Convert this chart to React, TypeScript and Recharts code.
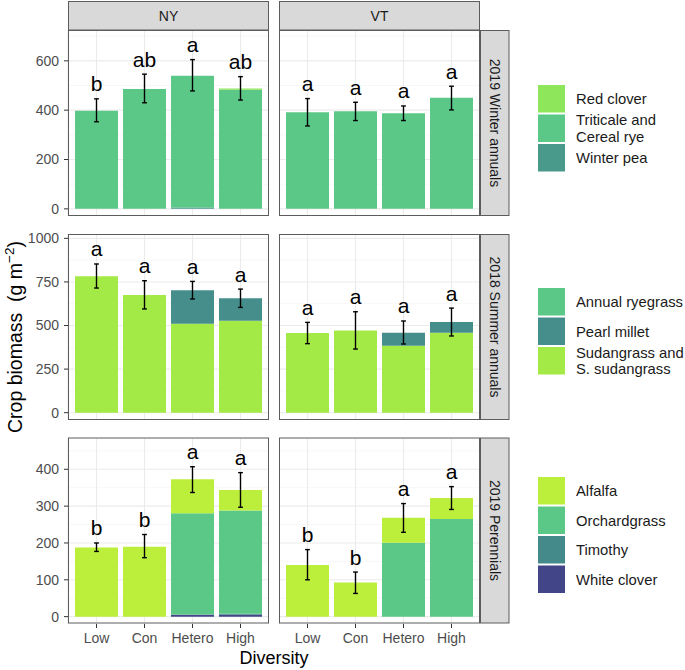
import React from 'react';
import { ComposedChart, Bar, Scatter, ErrorBar, XAxis, YAxis, CartesianGrid } from 'recharts';

const diversity = ['Low', 'Con', 'Hetero', 'High'];

// 2019 Winter annuals
const winterNY_redClover = [0, 0, 0, 5];
const winterNY_triticale = [398, 486, 535, 483];
const winterNY_winterPea = [0, 0, 5, 0];
const winterNY_lo = [353, 430, 478, 441];
const winterNY_hi = [446, 546, 605, 536];
const winterNY_letters = ['b', 'ab', 'a', 'ab'];

const winterVT_redClover = [0, 0, 0, 0];
const winterVT_triticale = [392, 396, 388, 450];
const winterVT_winterPea = [0, 0, 0, 0];
const winterVT_lo = [336, 358, 358, 401];
const winterVT_hi = [447, 432, 417, 497];
const winterVT_letters = ['a', 'a', 'a', 'a'];

// 2018 Summer annuals
const summerNY_ryegrass = [0, 0, 0, 0];
const summerNY_pearlMillet = [0, 0, 193, 129];
const summerNY_sudangrass = [782, 675, 510, 527];
const summerNY_lo = [715, 595, 652, 604];
const summerNY_hi = [853, 757, 753, 709];
const summerNY_letters = ['a', 'a', 'a', 'a'];

const summerVT_ryegrass = [0, 0, 0, 0];
const summerVT_pearlMillet = [0, 0, 75, 61];
const summerVT_sudangrass = [457, 472, 384, 459];
const summerVT_lo = [396, 365, 394, 440];
const summerVT_hi = [518, 579, 526, 600];
const summerVT_letters = ['a', 'a', 'a', 'a'];

// 2019 Perennials
const perNY_alfalfa = [188, 190, 92, 56];
const perNY_orchard = [0, 0, 275, 280];
const perNY_timothy = [0, 0, 1, 3];
const perNY_whiteClover = [0, 0, 5, 5];
const perNY_lo = [177, 160, 337, 297];
const perNY_hi = [200, 223, 407, 391];
const perNY_letters = ['b', 'b', 'a', 'a'];

const perVT_alfalfa = [140, 92.5, 68, 57];
const perVT_orchard = [0, 0, 200.5, 265];
const perVT_timothy = [0, 0, 0, 0];
const perVT_whiteClover = [0, 0, 0, 0];
const perVT_lo = [100, 63, 229, 291];
const perVT_hi = [182, 121, 307, 353];
const perVT_letters = ['b', 'b', 'a', 'a'];

// tick labels
const winterTicks = [0, 200, 400, 600];
const winterMinor = [100, 300, 500, 700];
const summerTicks = [0, 250, 500, 750, 1000];
const summerMinor = [125, 375, 625, 875];
const perTicks = [0, 100, 200, 300, 400];
const perMinor = [50, 150, 250, 350, 450];

const C_REDCLOVER = '#8EE65B';
const C_GREEN = '#5BC887';
const C_WINTERPEA = '#4A9A8C';
const C_PEARL = '#468E8B';
const C_SUDAN = '#A3EA46';
const C_ALFALFA = '#BCEF3C';
const C_TIMOTHY = '#458A8A';
const C_WHITECLOVER = '#424689';

type SeriesDef = { key: string; name: string; color: string };

const winterDefs: SeriesDef[] = [
  { key: 'winterPea', name: 'Winter pea', color: C_WINTERPEA },
  { key: 'triticale', name: 'Triticale and\nCereal rye', color: C_GREEN },
  { key: 'redClover', name: 'Red clover', color: C_REDCLOVER },
];
const summerDefs: SeriesDef[] = [
  { key: 'sudangrass', name: 'Sudangrass and\nS. sudangrass', color: C_SUDAN },
  { key: 'pearlMillet', name: 'Pearl millet', color: C_PEARL },
  { key: 'ryegrass', name: 'Annual ryegrass', color: C_GREEN },
];
const perDefs: SeriesDef[] = [
  { key: 'whiteClover', name: 'White clover', color: C_WHITECLOVER },
  { key: 'timothy', name: 'Timothy', color: C_TIMOTHY },
  { key: 'orchard', name: 'Orchardgrass', color: C_GREEN },
  { key: 'alfalfa', name: 'Alfalfa', color: C_ALFALFA },
];

function build(series: Record<string, number[]>, lo: number[], hi: number[], letters: string[]) {
  return diversity.map((d, i) => {
    const row: any = { diversity: d };
    let total = 0;
    Object.keys(series).forEach((k) => {
      row[k] = series[k][i];
      total += series[k][i];
    });
    row.total = total;
    row.hi = hi[i];
    row.err = [total - lo[i], hi[i] - total];
    row.letter = letters[i];
    return row;
  });
}

const winterNY = build({ winterPea: winterNY_winterPea, triticale: winterNY_triticale, redClover: winterNY_redClover }, winterNY_lo, winterNY_hi, winterNY_letters);
const winterVT = build({ winterPea: winterVT_winterPea, triticale: winterVT_triticale, redClover: winterVT_redClover }, winterVT_lo, winterVT_hi, winterVT_letters);
const summerNY = build({ sudangrass: summerNY_sudangrass, pearlMillet: summerNY_pearlMillet, ryegrass: summerNY_ryegrass }, summerNY_lo, summerNY_hi, summerNY_letters);
const summerVT = build({ sudangrass: summerVT_sudangrass, pearlMillet: summerVT_pearlMillet, ryegrass: summerVT_ryegrass }, summerVT_lo, summerVT_hi, summerVT_letters);
const perNY = build({ whiteClover: perNY_whiteClover, timothy: perNY_timothy, orchard: perNY_orchard, alfalfa: perNY_alfalfa }, perNY_lo, perNY_hi, perNY_letters);
const perVT = build({ whiteClover: perVT_whiteClover, timothy: perVT_timothy, orchard: perVT_orchard, alfalfa: perVT_alfalfa }, perVT_lo, perVT_hi, perVT_letters);

const FONT = '"Liberation Sans", Arial, Helvetica, sans-serif';
const PANEL_W = 201;
const PANEL_H = 186;
const YAXIS_W = 68;
const XAXIS_H = 45;
const TOP_PAD = 10;
const COL_X = [68, 279];
const ROW_Y = [30, 234, 437.5];
const BORDER = '#5c5c5c';

type PanelProps = {
  data: any[];
  defs: SeriesDef[];
  domain: [number, number];
  ticks: number[];
  minor: number[];
  showY: boolean;
  showX: boolean;
  left: number;
  top: number;
};

function Panel({ data, defs, domain, ticks, minor, showY, showX, left, top }: PanelProps) {
  const width = PANEL_W + (showY ? YAXIS_W : 0);
  const height = PANEL_H + TOP_PAD + (showX ? XAXIS_H : 0);
  return (
    <div style={{ position: 'absolute', left, top: top - TOP_PAD, width, height }}>
      <ComposedChart
        width={width}
        height={height}
        data={data}
        margin={{ top: TOP_PAD, right: 0, bottom: 0, left: 0 }}
        barCategoryGap={2.5}
      >
        <CartesianGrid horizontalValues={minor} vertical={false} stroke="#f1f1f1" strokeWidth={0.6} strokeDasharray="" />
        <CartesianGrid horizontalValues={ticks} stroke="#ebebeb" strokeWidth={1.1} strokeDasharray="" />
        <XAxis
          dataKey="diversity"
          type="category"
          hide={!showX}
          height={XAXIS_H}
          padding={{ left: 4.5, right: 4.5 }}
          axisLine={false}
          tickLine={{ stroke: '#333', strokeWidth: 1 }}
          tickSize={4}
          tickMargin={5}
          tick={{ fill: '#4d4d4d', fontSize: 14, fontFamily: FONT }}
          interval={0}
        />
        <YAxis
          type="number"
          domain={domain}
          allowDataOverflow
          ticks={ticks}
          hide={!showY}
          width={YAXIS_W}
          axisLine={false}
          tickLine={{ stroke: '#333', strokeWidth: 1 }}
          tickSize={4}
          tickMargin={5}
          tick={{ fill: '#4d4d4d', fontSize: 14, fontFamily: FONT }}
          interval={0}
        />
        {defs.map((d) => (
          <Bar key={d.key} dataKey={d.key} stackId="s" fill={d.color} isAnimationActive={false} />
        ))}
        <Scatter dataKey="total" isAnimationActive={false} shape={() => <g />}>
          <ErrorBar dataKey="err" direction="y" width={2.4} stroke="#000" strokeWidth={1.4} isAnimationActive={false} />
        </Scatter>
        <Scatter
          dataKey="hi"
          isAnimationActive={false}
          shape={(p: any) => (
            <text x={p.cx} y={p.cy - 7.5} textAnchor="middle" fontSize={21} fontFamily={FONT} fill="#000">
              {p.payload.letter}
            </text>
          )}
        />
      </ComposedChart>
    </div>
  );
}

function LegendBlock({ items }: { items: { name: string; color: string; y: number }[] }) {
  return (
    <g>
      {items.map((it) => {
        const lines = it.name.split('\n');
        return (
          <g key={it.name}>
            <rect x={538} y={it.y} width={27} height={27.5} fill={it.color} />
            {lines.map((ln, j) => (
              <text
                key={j}
                x={576}
                y={it.y + 13.75 + (j - (lines.length - 1) / 2) * 16.5 + 5.3}
                fontSize={14.8}
                fontFamily={FONT}
                fill="#1a1a1a"
              >
                {ln}
              </text>
            ))}
          </g>
        );
      })}
    </g>
  );
}

export default function App() {
  const rows = [
    { ny: winterNY, vt: winterVT, defs: winterDefs, domain: [-29, 725] as [number, number], ticks: winterTicks, minor: winterMinor, label: '2019 Winter annuals' },
    { ny: summerNY, vt: summerVT, defs: summerDefs, domain: [-42, 1025] as [number, number], ticks: summerTicks, minor: summerMinor, label: '2018 Summer annuals' },
    { ny: perNY, vt: perVT, defs: perDefs, domain: [-20, 485] as [number, number], ticks: perTicks, minor: perMinor, label: '2019 Perennials' },
  ];
  const legendWinter = [
    { name: 'Red clover', color: C_REDCLOVER, y: 85 },
    { name: 'Triticale and\nCereal rye', color: C_GREEN, y: 114.5 },
    { name: 'Winter pea', color: C_WINTERPEA, y: 144 },
  ];
  const legendSummer = [
    { name: 'Annual ryegrass', color: C_GREEN, y: 288 },
    { name: 'Pearl millet', color: C_PEARL, y: 317.5 },
    { name: 'Sudangrass and\nS. sudangrass', color: C_SUDAN, y: 347 },
  ];
  const legendPer = [
    { name: 'Alfalfa', color: C_ALFALFA, y: 477 },
    { name: 'Orchardgrass', color: C_GREEN, y: 506.5 },
    { name: 'Timothy', color: C_TIMOTHY, y: 536 },
    { name: 'White clover', color: C_WHITECLOVER, y: 565.5 },
  ];
  return (
    <div style={{ position: 'absolute', left: 0, top: 0, width: 685, height: 670, background: '#fff', fontFamily: FONT, overflow: 'hidden' }}>
      {rows.map((r, i) => (
        <React.Fragment key={i}>
          <Panel data={r.ny} defs={r.defs} domain={r.domain} ticks={r.ticks} minor={r.minor} showY showX={i === 2} left={0} top={ROW_Y[i]} />
          <Panel data={r.vt} defs={r.defs} domain={r.domain} ticks={r.ticks} minor={r.minor} showY={false} showX={i === 2} left={COL_X[1]} top={ROW_Y[i]} />
        </React.Fragment>
      ))}
      <svg width={685} height={670} style={{ position: 'absolute', left: 0, top: 0, pointerEvents: 'none' }}>
        {rows.map((r, i) => (
          <g key={i}>
            {COL_X.map((cx) => (
              <rect key={cx} x={cx + 0.5} y={ROW_Y[i] + 0.5} width={PANEL_W - 1} height={PANEL_H - 1} fill="none" stroke={BORDER} strokeWidth={1} />
            ))}
            <rect x={480.5} y={ROW_Y[i] + 0.5} width={28.5} height={PANEL_H - 1} fill="#d9d9d9" stroke={BORDER} strokeWidth={1} />
            <text
              x={0}
              y={0}
              transform={`translate(${494.5},${ROW_Y[i] + PANEL_H / 2}) rotate(90)`}
              textAnchor="middle"
              dominantBaseline="central"
              fontSize={14}
              fontFamily={FONT}
              fill="#1a1a1a"
            >
              {r.label}
            </text>
          </g>
        ))}
        {COL_X.map((cx, j) => (
          <g key={cx}>
            <rect x={cx + 0.5} y={1.5} width={PANEL_W - 1} height={28.5} fill="#d9d9d9" stroke={BORDER} strokeWidth={1} />
            <text x={cx + PANEL_W / 2} y={16} textAnchor="middle" dominantBaseline="central" fontSize={14} fontFamily={FONT} fill="#1a1a1a">
              {j === 0 ? 'NY' : 'VT'}
            </text>
          </g>
        ))}
        <text
          transform="translate(21.5,337) rotate(-90)"
          textAnchor="middle"
          fontSize={19.5}
          fontFamily={FONT}
          fill="#000"
          xmlSpace="preserve"
          style={{ whiteSpace: 'pre' }}
        >
          {'Crop biomass  (g m'}
          <tspan fontSize={13.5} dy={-7.5}>{'−2'}</tspan>
          <tspan dy={7.5}>{')'}</tspan>
        </text>
        <text x={274} y={664} textAnchor="middle" fontSize={18} fontFamily={FONT} fill="#000">
          Diversity
        </text>
        <LegendBlock items={legendWinter} />
        <LegendBlock items={legendSummer} />
        <LegendBlock items={legendPer} />
      </svg>
    </div>
  );
}
